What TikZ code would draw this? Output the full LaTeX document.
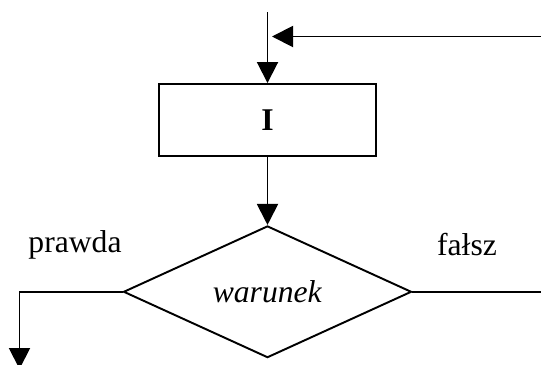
\documentclass[tikz,border=0pt]{standalone}
\usepackage{fontspec}
\setmainfont{Liberation Serif}
\usepackage{tikz}
\usetikzlibrary{positioning,arrows.meta,shapes.geometric,calc}

\begin{document}
\begin{tikzpicture}[node distance=1.36cm, line width=1.1pt,
    strz/.style={-{Triangle[width=0.42cm,length=0.42cm]}},
    napis/.style={font=\fontsize{18}{22}\selectfont}]
    \useasboundingbox (0,0) rectangle (10.82,-7.3);
    \node[draw,napis,minimum width=4.34cm,minimum height=1.44cm] (blok) at (5.35,-2.4) {\textbf{I}};
    \node[draw,diamond,napis,inner sep=0pt,minimum width=5.76cm,minimum height=2.4cm,below=of blok] (war) {\textit{warunek}};
    \coordinate (wej) at (5.35,-0.24);
    \coordinate (powrot) at (10.82,-0.73);
    \coordinate (lewy) at (0.39,-7.38);
    \coordinate (prawy) at (10.82,-5.8);
    \node[napis] (tak) at (1.5,-4.9) {prawda};
    \node[napis] (nie) at (9.34,-4.9) {fałsz};
    \draw[strz] (wej) -- (blok);
    \draw[strz] (powrot) -- ($(wej |- powrot)+(0.09,0)$);
    \draw[strz] (blok) -- (war);
    \draw[strz] (war.west) -| (lewy);
    \draw (war.east) -- (war.east -| prawy);
\end{tikzpicture}
\end{document}
